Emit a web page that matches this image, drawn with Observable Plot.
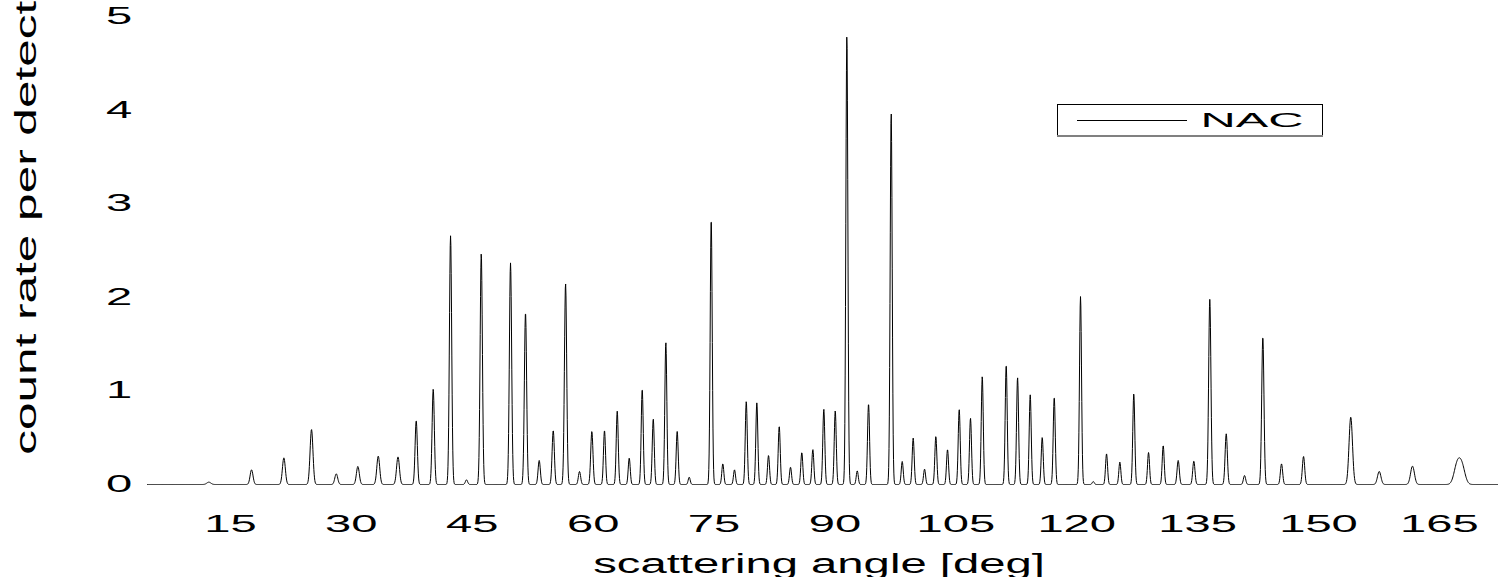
<!DOCTYPE html>
<html><head><meta charset="utf-8">
<script src="https://cdn.jsdelivr.net/npm/d3@7"></script>
<script src="https://cdn.jsdelivr.net/npm/@observablehq/plot@0.6"></script>
<style>body{margin:0;background:#fff} svg{display:block}</style>
</head><body><div id="chart"></div>
<script>
// Bragg peak list: position [deg], height [count rate], gaussian sigma [deg]
const peakAngle = [12.32, 17.62, 21.63, 25.06, 28.13, 30.81, 33.34, 35.79, 38.05, 40.16,
  42.31, 44.29, 46.12, 49.75, 51.61, 53.31, 55.05, 56.58, 58.31, 59.84,
  61.41, 62.99, 64.48, 66.09, 67.46, 69.02, 70.43, 71.92, 74.65, 76.09,
  77.54, 79.0, 80.31, 81.76, 83.09, 84.49, 85.89, 87.26, 88.62, 90.04,
  91.48, 92.77, 94.17, 96.98, 98.35, 99.71, 101.12, 102.52, 103.97, 105.42,
  106.82, 108.28, 111.25, 112.66, 114.23, 115.72, 117.21, 120.47, 122.05, 123.70,
  125.35, 127.08, 128.91, 130.73, 132.59, 134.53, 136.51, 138.55, 140.82, 143.09,
  145.41, 148.14, 154.0, 157.53, 161.66, 167.19, 167.79];
const peakHeight = [0.025, 0.157, 0.285, 0.588, 0.114, 0.193, 0.303, 0.295, 0.684, 1.02,
  2.66, 0.05, 2.47, 2.37, 1.84, 0.257, 0.578, 2.15, 0.139, 0.567,
  0.578, 0.784, 0.282, 1.02, 0.70, 1.52, 0.567, 0.078, 2.84, 0.221,
  0.157, 0.888, 0.873, 0.31, 0.624, 0.185, 0.342, 0.374, 0.806, 0.788,
  4.80, 0.146, 0.863, 3.975, 0.246, 0.496, 0.164, 0.513, 0.374, 0.802,
  0.709, 1.155, 1.28, 1.144, 0.959, 0.503, 0.934, 2.01, 0.032, 0.328,
  0.239, 0.97, 0.342, 0.417, 0.257, 0.25, 1.98, 0.542, 0.096, 1.58,
  0.221, 0.30, 0.72, 0.139, 0.196, 0.20, 0.19];
const peakWidth = [0.25, 0.18, 0.18, 0.18, 0.18, 0.18, 0.18, 0.18, 0.14, 0.14,
  0.14, 0.14, 0.14, 0.14, 0.14, 0.14, 0.14, 0.14, 0.14, 0.14,
  0.125, 0.125, 0.125, 0.125, 0.125, 0.125, 0.125, 0.125, 0.125, 0.125,
  0.125, 0.125, 0.125, 0.125, 0.125, 0.125, 0.125, 0.125, 0.125, 0.125,
  0.125, 0.125, 0.125, 0.125, 0.125, 0.125, 0.125, 0.125, 0.125, 0.125,
  0.125, 0.125, 0.125, 0.125, 0.125, 0.125, 0.125, 0.125, 0.125, 0.125,
  0.125, 0.125, 0.125, 0.125, 0.14, 0.14, 0.14, 0.14, 0.14, 0.14,
  0.14, 0.145, 0.215, 0.215, 0.24, 0.38, 0.38];
const angleRange = [4.71, 172.33];
const xTicks = [15, 30, 45, 60, 75, 90, 105, 120, 135, 150, 165];
const yTicks = [0, 1, 2, 3, 4, 5];
const seriesName = "NAC";
const xLabel = "scattering angle [deg]";
const yLabel = "count rate per detector";

// diffraction profile: sum of the gaussian peaks above
const profile = [];
for (let a = angleRange[0]; a <= angleRange[1] + 1e-9; a += 0.04) {
  let c = 0;
  for (let i = 0; i < peakAngle.length; i++) {
    const d = (a - peakAngle[i]) / peakWidth[i];
    if (Math.abs(d) < 7) c += peakHeight[i] * Math.exp(-0.5 * d * d);
  }
  profile.push({angle: a, count: c});
}

const font = "'Liberation Sans', Arial, Helvetica, sans-serif";
const plot = Plot.plot({
  width: 1498, height: 577,
  marginLeft: 147, marginRight: 0, marginTop: 16.5, marginBottom: 93,
  x: {domain: angleRange},
  y: {domain: [0, 5]},
  style: {fontFamily: font, background: "white", color: "black"},
  marks: [
    Plot.axisX({ticks: xTicks, tickSize: 0, tickPadding: 31, fontSize: 23, label: null, tickFormat: d3.format("d")}),
    Plot.axisY({ticks: yTicks, tickSize: 0, tickPadding: 22, fontSize: 23, label: null, tickFormat: d3.format("d")}),
    Plot.line(profile, {x: "angle", y: "count", stroke: "black", strokeWidth: 1}),
    Plot.text([xLabel], {frameAnchor: "bottom", lineAnchor: "bottom", dy: 88, dx: -4, fontSize: 27}),
    Plot.text([yLabel], {frameAnchor: "left", textAnchor: "middle", rotate: -90, lineAnchor: "bottom", dx: -112, dy: -45, fontSize: 30})
  ]
});
document.getElementById("chart").append(plot);

const svg = d3.select(plot);
const lg = svg.append("g").attr("aria-label", "legend");
lg.append("rect").attr("x", 1057.5).attr("y", 104.5).attr("width", 265).attr("height", 31)
  .attr("fill", "white").attr("stroke", "black");
lg.append("line").attr("x1", 1057).attr("x2", 1323).attr("y1", 136).attr("y2", 136)
  .attr("stroke", "#808080").attr("stroke-width", 2);
lg.append("line").attr("x1", 1077).attr("x2", 1187).attr("y1", 120.5).attr("y2", 120.5)
  .attr("stroke", "black");
lg.append("text").attr("class", "lgtext").attr("x", 1252).attr("y", 126.7).attr("text-anchor", "middle")
  .attr("font-size", 19.5).attr("font-family", font).attr("fill", "black").text(seriesName);

function stretch(nodes, kx, ky) {
  nodes.each(function () {
    const g = document.createElementNS("http://www.w3.org/2000/svg", "g");
    this.parentNode.insertBefore(g, this);
    g.appendChild(this);
    const b = g.getBBox();
    const cx = b.x + b.width / 2, cy = b.y + b.height / 2;
    g.setAttribute("transform", `translate(${cx},${cy}) scale(${kx},${ky}) translate(${-cx},${-cy})`);
  });
}
const byText = (s) => svg.selectAll("text").filter(function () { return this.textContent === s; });
stretch(svg.selectAll('g[aria-label="x-axis tick label"] text'), 2.05, 1);
stretch(svg.selectAll('g[aria-label="y-axis tick label"] text'), 2.05, 1);
stretch(byText(xLabel), 1.75, 1);
stretch(byText(yLabel), 1, 1.65);
stretch(svg.selectAll('text.lgtext'), 2.5, 1);
</script>
</body></html>
